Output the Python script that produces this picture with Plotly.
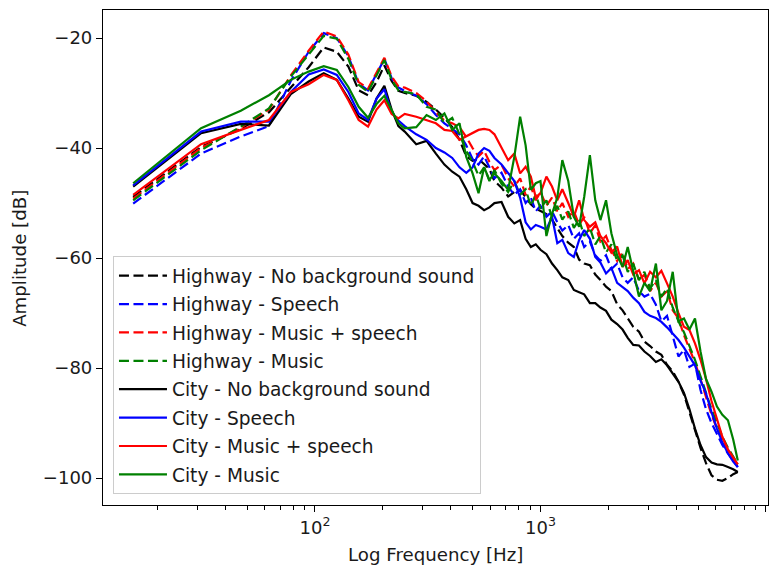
import plotly.graph_objects as go

# FFT bin centre frequencies (Hz), 15.625 Hz bin spacing
freq_hz = [
    15.625, 31.25, 46.875, 62.5, 78.125, 93.75, 109.375, 125.0, 140.625, 156.25,
    171.875, 187.5, 203.125, 218.75, 234.375, 250.0,
    281.25, 312.5, 343.75, 375.0, 406.25, 437.5, 468.75, 500.0, 531.25, 562.5,
    593.75, 625.0,
    671.875, 718.75, 765.625, 812.5, 859.375, 906.25, 953.125, 1000.0, 1062.5,
    1125.0, 1187.5, 1250.0,
    1328.125, 1406.25, 1484.375, 1562.5, 1656.25, 1750.0, 1843.75, 1953.125,
    2062.5, 2187.5, 2312.5, 2437.5, 2578.125, 2734.375, 2890.625, 3062.5,
    3250.0, 3437.5, 3640.625, 3859.375, 4093.75, 4328.125, 4578.125, 4843.75,
    5125.0, 5421.875, 5734.375, 6062.5, 6406.25, 6781.25, 7156.25, 7500.0,
]

highway_none = [
    -48.9, -39.8, -36.5, -33.5, -29.0, -25.3, -21.7, -22.5, -25.2, -29.5,
    -30.4, -28.0, -25.0, -27.8, -29.6, -30.0,
    -30.5, -31.6, -33.0, -34.5, -36.2, -38.5, -41.5, -42.3, -42.0, -43.0,
    -43.8, -46.0,
    -47.2, -48.8, -48.0, -47.6, -49.0, -50.2, -51.0, -51.5, -52.0, -53.0,
    -54.5, -56.0,
    -57.2, -58.0, -60.3, -61.0, -61.3, -63.0, -64.0, -65.2, -66.0, -68.4,
    -69.5, -71.0, -72.5, -73.4, -75.2, -76.0, -77.0, -77.6, -79.4, -80.6,
    -82.5, -84.8, -88.0, -91.5, -94.5, -97.3, -99.5, -100.3, -100.5, -100.0,
    -99.3, -98.9,
]

highway_speech = [
    -50.1, -41.0, -37.9, -36.0, -27.8, -22.5, -19.1, -20.0, -23.3, -28.3,
    -29.5, -26.5, -23.8, -27.3, -29.0, -29.6,
    -30.5, -32.0, -34.0, -35.5, -36.5, -37.5, -39.5, -42.0, -43.0, -41.5,
    -43.5, -45.5,
    -44.5, -47.0, -48.5, -47.5, -50.0, -49.0, -51.5, -50.5, -52.5, -51.5,
    -53.5, -55.0,
    -54.0, -56.5, -55.5, -58.0, -57.0, -59.5, -60.5, -59.5, -62.0, -61.0,
    -63.5, -64.5, -63.5, -66.0, -67.0, -66.5, -68.5, -71.5, -70.5, -74.3,
    -77.9, -76.7, -79.8, -79.2, -84.0, -87.5, -90.0, -92.0, -94.0, -95.5,
    -96.8, -98.0,
]

highway_music_speech = [
    -49.2, -40.0, -36.3, -33.0, -26.8, -22.3, -18.8, -19.7, -23.0, -28.0,
    -29.2, -26.3, -23.6, -27.0, -28.8, -29.0,
    -30.0, -31.5, -33.5, -35.0, -35.5, -36.2, -38.0, -40.0, -41.5, -40.5,
    -42.5, -44.0,
    -43.0, -45.5, -47.0, -45.5, -48.5, -47.0, -49.5, -48.0, -50.5, -49.0,
    -51.5, -50.0,
    -52.5, -51.5, -54.0, -52.5, -55.5, -54.0, -57.0, -56.0, -58.5, -60.5,
    -59.0, -62.0, -61.0, -64.0, -63.0, -66.0, -64.5, -67.0, -66.0, -69.5,
    -71.0, -74.0, -76.5, -79.0, -82.0, -85.5, -88.5, -91.0, -93.0, -95.0,
    -96.5, -97.8,
]

highway_music = [
    -49.5, -40.4, -36.1, -32.8, -27.0, -23.0, -19.6, -20.1, -23.8, -28.5,
    -29.8, -26.8, -24.0, -27.6, -29.5, -29.8,
    -30.2, -32.5, -33.0, -35.5, -34.5, -37.5, -40.5, -42.5, -45.0, -43.5,
    -46.0, -44.0,
    -46.5, -48.0, -46.0, -48.5, -47.5, -50.5, -48.5, -51.0, -49.5, -52.5,
    -50.5, -53.0,
    -51.5, -54.5, -53.0, -56.0, -54.5, -57.5, -56.0, -59.0, -57.5, -60.5,
    -59.5, -62.5, -61.0, -64.0, -62.5, -65.5, -64.0, -67.0, -65.5, -69.0,
    -71.5, -73.5, -76.0, -78.5, -81.5, -84.5, -87.5, -90.0, -92.5, -94.5,
    -96.0, -97.5,
]

city_none = [
    -47.0, -37.3, -35.6, -35.9, -30.2, -27.9, -26.4, -27.6, -31.0, -34.3,
    -35.2, -31.0, -28.7, -33.0, -36.0, -37.0,
    -39.3, -38.7, -41.0, -43.0, -44.3, -45.2, -47.5, -50.0, -50.5, -51.3,
    -50.8, -50.0,
    -49.8, -52.5, -53.7, -53.1, -56.5, -58.0, -57.5, -58.5, -59.3, -61.0,
    -62.2, -63.5,
    -64.0, -65.8, -66.2, -66.6, -68.2, -68.2, -69.0, -69.6, -71.2, -72.0,
    -73.0, -74.5, -75.8, -75.9, -77.0, -77.8, -78.9, -78.4, -79.5, -81.0,
    -82.5, -84.5, -87.5, -91.0, -94.0, -96.2, -97.2, -97.5, -97.6, -98.0,
    -98.4, -98.9,
]

city_speech = [
    -46.8, -37.0, -35.2, -35.2, -29.8, -26.6, -25.7, -26.7, -29.8, -33.7,
    -34.9, -31.0, -29.3, -33.5, -35.0, -36.0,
    -37.5, -38.5, -40.0, -40.8, -41.8, -43.5, -44.5, -43.5, -41.0, -40.0,
    -40.5, -41.8,
    -43.0, -44.5, -46.0, -49.0, -53.5, -54.8, -54.0, -54.3, -54.8, -52.5,
    -57.3, -56.7,
    -59.1, -59.8, -56.7, -54.9, -56.5, -59.8, -60.8, -62.8, -61.8, -64.5,
    -65.3, -66.0, -67.2, -68.2, -69.8, -70.5, -70.9, -71.6, -72.6, -73.8,
    -74.9, -76.3, -77.8, -79.5, -82.3, -84.6, -88.0, -91.0, -93.5, -95.5,
    -97.0, -98.0,
]

city_music_speech = [
    -48.5, -39.3, -36.7, -34.9, -29.8, -28.4, -26.7, -27.6, -31.3, -34.9,
    -36.1, -33.0, -31.3, -33.8, -34.6, -33.8,
    -34.3, -34.9, -35.5, -36.7, -36.9, -38.5, -37.9, -37.3, -36.7, -36.5,
    -36.7, -37.5,
    -40.0, -42.2, -41.0, -44.6, -43.4, -45.2, -49.0, -48.2, -45.2, -47.0,
    -49.5, -47.5,
    -50.0, -52.5, -49.5, -53.1, -54.3, -53.5, -56.0, -57.3, -59.0, -57.9,
    -61.6, -60.4, -63.0, -62.2, -64.6, -62.5, -63.5, -62.3, -64.6, -67.0,
    -70.0, -72.5, -73.1, -75.5, -78.5, -82.0, -86.0, -89.5, -92.5, -94.8,
    -96.3, -97.5,
]

city_music = [
    -46.4, -36.4, -33.2, -30.4, -27.6, -26.1, -25.1, -25.8, -28.9, -32.5,
    -34.5, -32.0, -30.5, -33.0, -35.5, -36.4,
    -36.2, -34.0, -34.9, -33.7, -36.7, -35.5, -41.6, -44.6, -48.2, -43.5,
    -45.8, -44.6,
    -46.0, -47.6, -41.6, -34.3, -39.5, -47.6, -46.4, -46.0, -56.0, -52.0,
    -49.0, -42.2,
    -46.0, -52.5, -54.3, -48.9, -41.3, -49.5, -53.1, -49.5, -55.5, -59.5,
    -61.6, -58.0, -62.5, -67.0, -64.5, -66.0, -61.0, -69.5, -67.8, -62.5,
    -71.5, -71.0, -73.0, -71.0, -77.0, -82.0, -84.3, -87.0, -88.5, -89.5,
    -93.0, -96.8,
]

series = [
    ("Highway - No background sound", highway_none, "#000000", "dash"),
    ("Highway - Speech", highway_speech, "#0000ff", "dash"),
    ("Highway - Music + speech", highway_music_speech, "#ff0000", "dash"),
    ("Highway - Music", highway_music, "#008000", "dash"),
    ("City - No background sound", city_none, "#000000", "solid"),
    ("City - Speech", city_speech, "#0000ff", "solid"),
    ("City - Music + speech", city_music_speech, "#ff0000", "solid"),
    ("City - Music", city_music, "#008000", "solid"),
]

fig = go.Figure()
for i, (name, values, color, style) in enumerate(series):
    fig.add_trace(go.Scatter(
        x=freq_hz, y=values, mode="lines", name=name,
        legendgroup=f"g{i}",
        line=dict(color=color, width=2.2,
                  dash="10px,4.5px" if style == "dash" else "solid"),
    ))

text_color = "#1a1a1a"
font = dict(family="DejaVu Sans", size=18, color=text_color)
title_font = dict(family="DejaVu Sans", size=18.2, color=text_color)

fig.update_layout(
    width=780, height=568,
    margin=dict(l=103, r=12, t=10, b=63, autoexpand=False),
    paper_bgcolor="white", plot_bgcolor="white",
    font=font,
    showlegend=True,
    legend=dict(
        x=0.015, y=0.022, xanchor="left", yanchor="bottom",
        bgcolor="rgba(255,255,255,0.8)", bordercolor="#cccccc", borderwidth=1,
        font=dict(family="DejaVu Sans", size=18.6, color=text_color),
        tracegroupgap=1.2, itemwidth=48,
    ),
    annotations=[
        # axis titles
        dict(text="Log Frequency [Hz]", xref="paper", yref="paper",
             x=0.5, y=-0.101, xanchor="center", yanchor="middle",
             showarrow=False, font=title_font),
        dict(text="Amplitude [dB]", xref="paper", yref="paper",
             x=-0.125, y=0.499, xanchor="center", yanchor="middle",
             textangle=-90, showarrow=False, font=title_font),
    ],
)

fig.update_xaxes(
    type="log", range=[1.060, 4.009], automargin=False,
    tickvals=[100, 1000, 10000],
    ticktext=["10<sup>2</sup>", "10<sup>3</sup>", "10<sup>4</sup>"],
    ticks="outside", ticklen=6, tickwidth=1.2, tickcolor="black",
    tickfont=dict(family="DejaVu Sans", size=18, color=text_color),
    minor=dict(ticks="outside", ticklen=3.5, tickwidth=1, tickcolor="black",
               tickvals=[20, 30, 40, 50, 60, 70, 80, 90,
                         200, 300, 400, 500, 600, 700, 800, 900,
                         2000, 3000, 4000, 5000, 6000, 7000, 8000, 9000]),
    showline=True, linecolor="black", linewidth=1.2, mirror=True,
    showgrid=False, zeroline=False,
)

fig.update_yaxes(
    range=[-104.9, -14.9], automargin=False,
    tickvals=[-100, -80, -60, -40, -20],
    ticks="outside", ticklen=6, tickwidth=1.2, tickcolor="black",
    tickfont=dict(family="DejaVu Sans", size=18, color=text_color),
    showline=True, linecolor="black", linewidth=1.2, mirror=True,
    showgrid=False, zeroline=False,
)

fig.write_html("out.html")
